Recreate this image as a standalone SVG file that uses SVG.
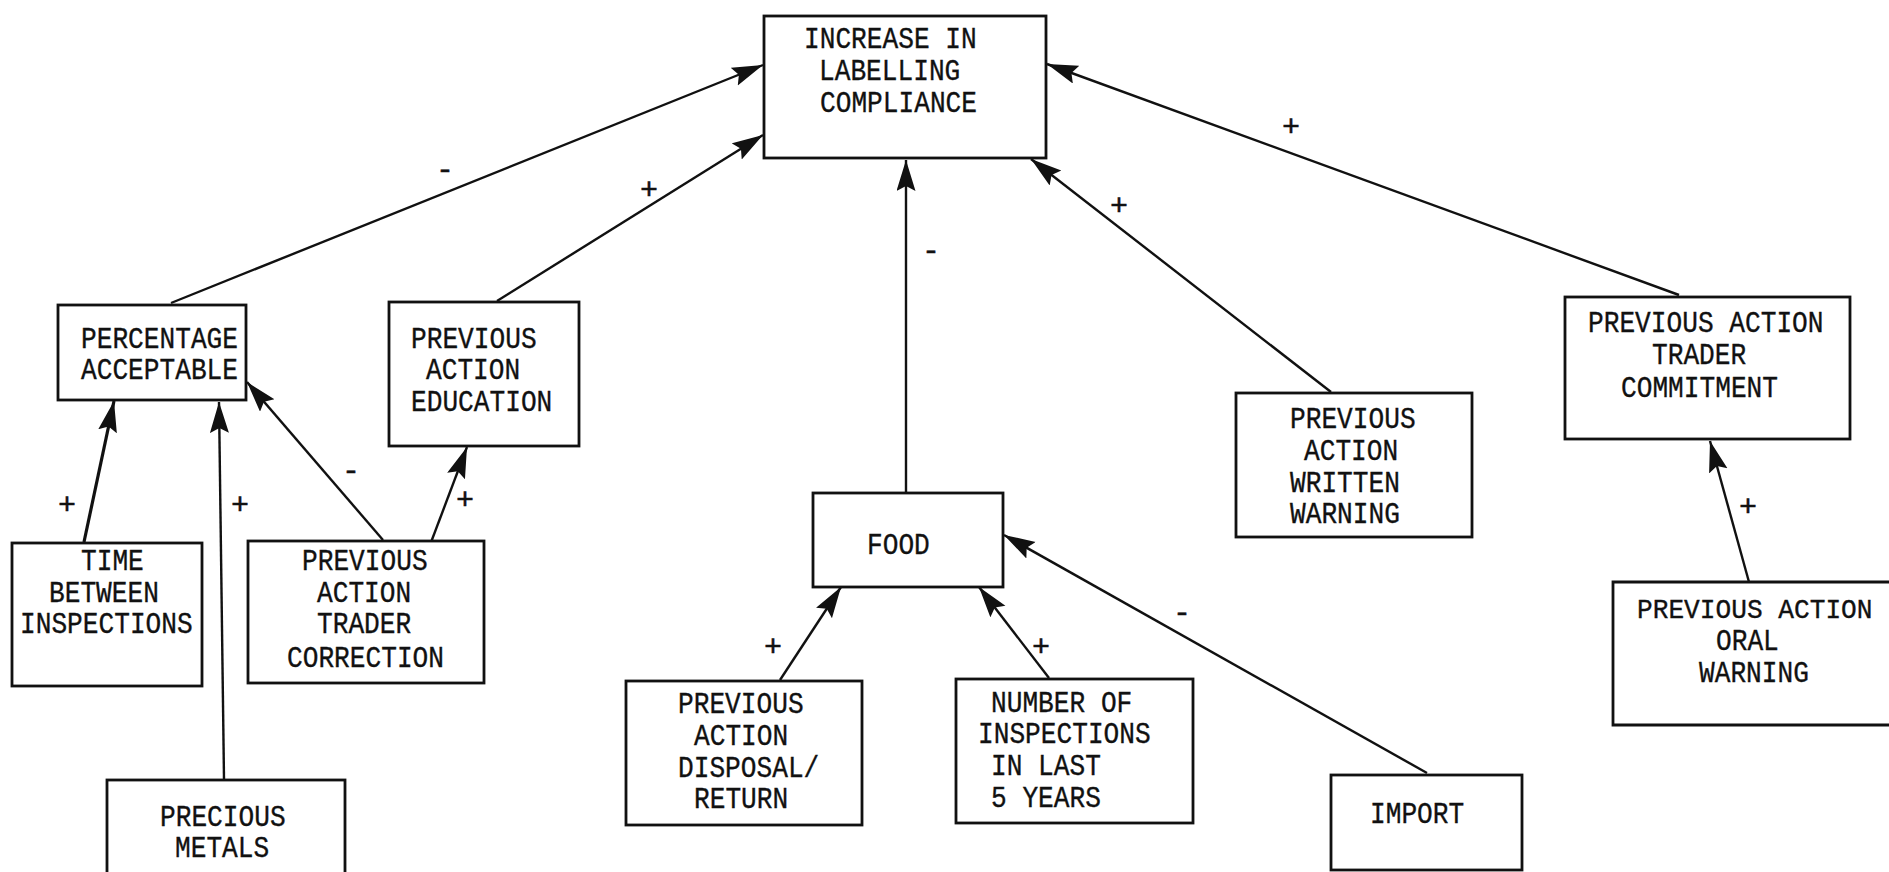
<svg xmlns="http://www.w3.org/2000/svg" width="1889" height="872" viewBox="0 0 1889 872">
  <style>
    .box { fill: #ffffff; stroke: #111111; stroke-width: 2.8; }
    .lbl { font-family: "Liberation Mono", "DejaVu Sans Mono", monospace; font-size: 30px; fill: #111111; stroke: #111111; stroke-width: 0.35; }
    .sign { font-family: "Liberation Mono", "DejaVu Sans Mono", monospace; font-size: 30px; fill: #111111; stroke: #111111; stroke-width: 0.5; text-anchor: middle; }
    .edge { stroke: #111111; stroke-width: 2.4; fill: none; marker-end: url(#head); }
  </style>
  <defs>
    <marker id="head" markerUnits="userSpaceOnUse" markerWidth="34" markerHeight="20" refX="31" refY="9.5" orient="auto">
      <path d="M0,0 L31,9.5 L0,19 L5,9.5 z" fill="#111111"/>
    </marker>
  </defs>
  <rect width="1889" height="872" fill="#ffffff"/>

  <!-- causal links with their signs -->
  <g id="connectors">
    <line class="edge" x1="171" y1="303" x2="763" y2="65"/>
    <text class="sign" x="445" y="179">-</text>
    <line class="edge" x1="497" y1="301" x2="763" y2="135"/>
    <text class="sign" x="649" y="199">+</text>
    <line class="edge" x1="906" y1="492" x2="906" y2="160"/>
    <text class="sign" x="931" y="260">-</text>
    <line class="edge" x1="1331" y1="392" x2="1031" y2="159"/>
    <text class="sign" x="1119" y="215">+</text>
    <line class="edge" x1="1679" y1="295" x2="1047" y2="64"/>
    <text class="sign" x="1291" y="136">+</text>
    <line class="edge" x1="84" y1="542" x2="114" y2="401" style="stroke-width:3.2"/>
    <text class="sign" x="67" y="514">+</text>
    <line class="edge" x1="224" y1="779" x2="219" y2="402"/>
    <text class="sign" x="240" y="514">+</text>
    <line class="edge" x1="383" y1="540" x2="247" y2="382"/>
    <text class="sign" x="351" y="480">-</text>
    <line class="edge" x1="430" y1="545" x2="467" y2="447"/>
    <text class="sign" x="465" y="509">+</text>
    <line class="edge" x1="780" y1="680" x2="841" y2="587"/>
    <text class="sign" x="773" y="656">+</text>
    <line class="edge" x1="1049" y1="678" x2="979" y2="587"/>
    <text class="sign" x="1041" y="656">+</text>
    <line class="edge" x1="1427" y1="773" x2="1004" y2="535"/>
    <text class="sign" x="1182" y="622">-</text>
    <line class="edge" x1="1749" y1="582" x2="1710" y2="441"/>
    <text class="sign" x="1748" y="516">+</text>
  </g>

  <g id="labelling-compliance">
    <rect class="box" x="764" y="16" width="282" height="142"/>
    <text class="lbl" x="804" y="48" textLength="172.7" lengthAdjust="spacingAndGlyphs">INCREASE IN</text>
    <text class="lbl" x="819" y="80" textLength="141.3" lengthAdjust="spacingAndGlyphs">LABELLING</text>
    <text class="lbl" x="820" y="112" textLength="157" lengthAdjust="spacingAndGlyphs">COMPLIANCE</text>
  </g>

  <g id="percentage-acceptable">
    <rect class="box" x="58" y="305" width="188" height="95"/>
    <text class="lbl" x="81" y="348" textLength="157" lengthAdjust="spacingAndGlyphs">PERCENTAGE</text>
    <text class="lbl" x="81" y="379" textLength="157" lengthAdjust="spacingAndGlyphs">ACCEPTABLE</text>
  </g>

  <g id="action-education">
    <rect class="box" x="389" y="302" width="190" height="144"/>
    <text class="lbl" x="411" y="348" textLength="125.6" lengthAdjust="spacingAndGlyphs">PREVIOUS</text>
    <text class="lbl" x="426" y="379" textLength="94.2" lengthAdjust="spacingAndGlyphs">ACTION</text>
    <text class="lbl" x="411" y="411" textLength="141.3" lengthAdjust="spacingAndGlyphs">EDUCATION</text>
  </g>

  <g id="time-between-inspections">
    <rect class="box" x="12" y="543" width="190" height="143"/>
    <text class="lbl" x="81" y="570" textLength="62.8" lengthAdjust="spacingAndGlyphs">TIME</text>
    <text class="lbl" x="49" y="602" textLength="109.9" lengthAdjust="spacingAndGlyphs">BETWEEN</text>
    <text class="lbl" x="20" y="633" textLength="172.7" lengthAdjust="spacingAndGlyphs">INSPECTIONS</text>
  </g>

  <g id="action-trader-correction">
    <rect class="box" x="248" y="541" width="236" height="142"/>
    <text class="lbl" x="302" y="570" textLength="125.6" lengthAdjust="spacingAndGlyphs">PREVIOUS</text>
    <text class="lbl" x="317" y="602" textLength="94.2" lengthAdjust="spacingAndGlyphs">ACTION</text>
    <text class="lbl" x="317" y="633" textLength="94.2" lengthAdjust="spacingAndGlyphs">TRADER</text>
    <text class="lbl" x="287" y="667" textLength="157" lengthAdjust="spacingAndGlyphs">CORRECTION</text>
  </g>

  <g id="precious-metals">
    <rect class="box" x="107" y="780" width="238" height="120"/>
    <text class="lbl" x="160" y="826" textLength="125.6" lengthAdjust="spacingAndGlyphs">PRECIOUS</text>
    <text class="lbl" x="175" y="857" textLength="94.2" lengthAdjust="spacingAndGlyphs">METALS</text>
  </g>

  <g id="food">
    <rect class="box" x="813" y="493" width="190" height="94"/>
    <text class="lbl" x="867" y="554" textLength="62.8" lengthAdjust="spacingAndGlyphs">FOOD</text>
  </g>

  <g id="action-disposal-return">
    <rect class="box" x="626" y="681" width="236" height="144"/>
    <text class="lbl" x="678" y="713" textLength="125.6" lengthAdjust="spacingAndGlyphs">PREVIOUS</text>
    <text class="lbl" x="694" y="745" textLength="94.2" lengthAdjust="spacingAndGlyphs">ACTION</text>
    <text class="lbl" x="678" y="777" textLength="141.3" lengthAdjust="spacingAndGlyphs">DISPOSAL/</text>
    <text class="lbl" x="694" y="808" textLength="94.2" lengthAdjust="spacingAndGlyphs">RETURN</text>
  </g>

  <g id="inspections-last-5-years">
    <rect class="box" x="956" y="679" width="237" height="144"/>
    <text class="lbl" x="991" y="712" textLength="141.3" lengthAdjust="spacingAndGlyphs">NUMBER OF</text>
    <text class="lbl" x="978" y="743" textLength="172.7" lengthAdjust="spacingAndGlyphs">INSPECTIONS</text>
    <text class="lbl" x="991" y="775" textLength="109.9" lengthAdjust="spacingAndGlyphs">IN LAST</text>
    <text class="lbl" x="991" y="807" textLength="109.9" lengthAdjust="spacingAndGlyphs">5 YEARS</text>
  </g>

  <g id="import">
    <rect class="box" x="1331" y="775" width="191" height="95"/>
    <text class="lbl" x="1370" y="823" textLength="94.2" lengthAdjust="spacingAndGlyphs">IMPORT</text>
  </g>

  <g id="action-written-warning">
    <rect class="box" x="1236" y="393" width="236" height="144"/>
    <text class="lbl" x="1290" y="428" textLength="125.6" lengthAdjust="spacingAndGlyphs">PREVIOUS</text>
    <text class="lbl" x="1304" y="460" textLength="94.2" lengthAdjust="spacingAndGlyphs">ACTION</text>
    <text class="lbl" x="1290" y="492" textLength="109.9" lengthAdjust="spacingAndGlyphs">WRITTEN</text>
    <text class="lbl" x="1290" y="523" textLength="109.9" lengthAdjust="spacingAndGlyphs">WARNING</text>
  </g>

  <g id="action-trader-commitment">
    <rect class="box" x="1565" y="297" width="285" height="142"/>
    <text class="lbl" x="1588" y="332" textLength="235.5" lengthAdjust="spacingAndGlyphs">PREVIOUS ACTION</text>
    <text class="lbl" x="1652" y="364" textLength="94.2" lengthAdjust="spacingAndGlyphs">TRADER</text>
    <text class="lbl" x="1621" y="397" textLength="157" lengthAdjust="spacingAndGlyphs">COMMITMENT</text>
  </g>

  <g id="action-oral-warning">
    <!-- box runs past the right edge, so only three sides are drawn -->
    <path class="box" d="M1889,582 L1613,582 L1613,725 L1889,725"/>
    <text class="lbl" x="1637" y="618" style="font-size:27.5px" textLength="235.5" lengthAdjust="spacingAndGlyphs">PREVIOUS ACTION</text>
    <text class="lbl" x="1716" y="650" textLength="62.8" lengthAdjust="spacingAndGlyphs">ORAL</text>
    <text class="lbl" x="1699" y="682" textLength="109.9" lengthAdjust="spacingAndGlyphs">WARNING</text>
  </g>
</svg>
